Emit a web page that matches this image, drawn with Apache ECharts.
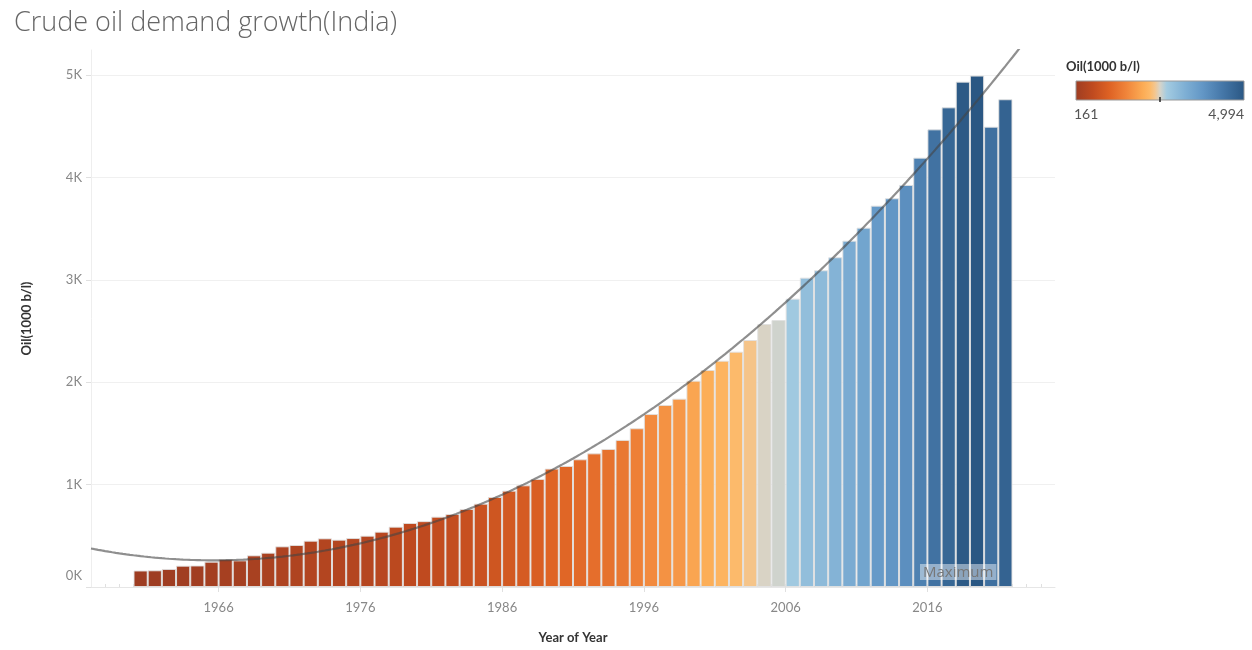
<!DOCTYPE html>
<html>
<head>
<meta charset="utf-8">
<script src="https://cdn.jsdelivr.net/npm/echarts@6/dist/echarts.min.js"></script>
<style>
html,body{margin:0;padding:0;background:#fff;}
#chart{width:1252px;height:650px;}
</style>
</head>
<body>
<div id="chart"></div>
<script>
// ---- data ----
const years = [1960,1961,1962,1963,1964,1965,1966,1967,1968,1969,
  1970,1971,1972,1973,1974,1975,1976,1977,1978,1979,
  1980,1981,1982,1983,1984,1985,1986,1987,1988,1989,
  1990,1991,1992,1993,1994,1995,1996,1997,1998,1999,
  2000,2001,2002,2003,2004,2005,2006,2007,2008,2009,
  2010,2011,2012,2013,2014,2015,2016,2017,2018,2019,
  2020,2021];
const oil = [161,163,176,208,210,247,273,260,309,335,
  397,410,452,475,462,478,501,540,589,625,
  643,687,713,762,814,879,941,993,1055,1156,
  1182,1247,1305,1348,1436,1550,1689,1777,1839,2015,
  2119,2210,2298,2412,2568,2607,2816,3021,3093,3220,
  3382,3509,3724,3796,3926,4193,4469,4684,4935,4994,
  4495,4763];
const yearTicks = [1966,1976,1986,1996,2006,2016];
const valueTicks = [0,1000,2000,3000,4000,5000];
const minorYearTicks = [1958,1959,1960,1961,1962,1963,1964,1965,1966,1967,1968,1969,1970,1971,1972,1973,1974,1975,1976,1977,1978,1979,1980,1981,1982,1983,1984,1985,1986,1987,1988,1989,1990,1991,1992,1993,1994,1995,1996,1997,1998,1999,2000,2001,2002,2003,2004,2005,2006,2007,2008,2009,2010,2011,2012,2013,2014,2015,2016,2017,2018,2019,2020,2021,2022,2023,2024];
const legendMin = 161, legendMax = 4994;

// ---- style: orange-blue diverging palette ----
const paletteStops = [
  [0,'#9e3d22'],[0.1,'#bf4a1f'],[0.2,'#de6224'],[0.3,'#f0843a'],
  [0.4,'#fcac55'],[0.44,'#fdb968'],[0.47,'#f4c68f'],[0.5,'#d7d4c9'],[0.54,'#a3cbe1'],
  [0.65,'#7eafd4'],[0.75,'#6397c6'],[0.87,'#4577a8'],[1,'#2a5783']
];
function hex2rgb(h){return [parseInt(h.substr(1,2),16),parseInt(h.substr(3,2),16),parseInt(h.substr(5,2),16)];}
function colorFor(v){
  let t=(v-legendMin)/(legendMax-legendMin); t=Math.max(0,Math.min(1,t));
  for(let i=1;i<paletteStops.length;i++){
    const a=paletteStops[i-1], b=paletteStops[i];
    if(t<=b[0]){
      const f=(t-a[0])/(b[0]-a[0]); const ca=hex2rgb(a[1]), cb=hex2rgb(b[1]);
      const c=ca.map((x,k)=>Math.round(x+(cb[k]-x)*f));
      return 'rgb('+c.join(',')+')';
    }
  }
  return paletteStops[paletteStops.length-1][1];
}

// ---- polynomial (degree 2) least-squares trend from the data ----
function quadFit(xs, ys){
  const x0 = 1990;
  let S=[0,0,0,0,0], T=[0,0,0];
  xs.forEach((x,i)=>{const u=x-x0; let p=1; for(let k=0;k<5;k++){S[k]+=p; if(k<3) T[k]+=p*ys[i]; p*=u;}});
  const A=[[S[0],S[1],S[2],T[0]],[S[1],S[2],S[3],T[1]],[S[2],S[3],S[4],T[2]]];
  for(let c=0;c<3;c++){
    for(let r=c+1;r<3;r++){const f=A[r][c]/A[c][c]; for(let k=c;k<4;k++) A[r][k]-=f*A[c][k];}
  }
  const co=[0,0,0];
  for(let r=2;r>=0;r--){let s=A[r][3]; for(let k=r+1;k<3;k++) s-=A[r][k]*co[k]; co[r]=s/A[r][r];}
  return x=>{const u=x-x0; return co[0]+co[1]*u+co[2]*u*u;};
}
const barX = years.map(y=>y+0.5);
const trend = quadFit(barX, oil);
const trendData = [];
for(let x=1957; x<=2025.001; x+=0.25) trendData.push([x, trend(x)]);

const chart = echarts.init(document.getElementById('chart'));
const FONT = 'Lato, "Open Sans", sans-serif';
chart.setOption({
  animation:false,
  textStyle:{fontFamily:FONT},
  title:{text:'Crude oil demand growth(India)', left:9, top:5,
    textStyle:{fontSize:27, fontWeight:300, color:'#666', fontFamily:'"Open Sans", sans-serif'}},
  grid:{left:91, right:197, top:50, bottom:63},
  xAxis:[{type:'value', min:1957, max:2025,
    name:'Year of Year', nameLocation:'middle', nameGap:44,
    nameTextStyle:{fontSize:13, fontWeight:'bold', color:'#333'},
    axisLine:{show:true, lineStyle:{color:'#e6e6e6'}},
    axisTick:{show:true, customValues:yearTicks, length:5, lineStyle:{color:'#e0e0e0'}},
    axisLabel:{customValues:yearTicks, formatter:v=>String(v), color:'#888', fontSize:13, margin:14},
    splitLine:{show:false}},
   {type:'value', min:1957, max:2025, position:'bottom', offset:0,
    axisLine:{show:false},
    axisTick:{show:true, inside:true, customValues:minorYearTicks, length:3, lineStyle:{color:'#e0e0e0'}},
    axisLabel:{show:false}, splitLine:{show:false}}],
  yAxis:{type:'value', min:0, max:5244,
    name:'Oil(1000 b/l)', nameLocation:'middle', nameGap:58, nameRotate:90,
    nameTextStyle:{fontSize:13, fontWeight:'bold', color:'#333'},
    axisLine:{show:true, lineStyle:{color:'#eeeeee'}},
    axisTick:{show:true, customValues:valueTicks, length:5, lineStyle:{color:'#e0e0e0'}},
    axisLabel:{customValues:valueTicks, color:'#888', fontSize:13, margin:9,
      formatter:v=> v===0 ? '{z|0K}' : (v/1000)+'K',
      rich:{z:{color:'#888', fontSize:13, padding:[0,0,22,0]}}},
    splitLine:{show:true, lineStyle:{color:'#f0f0f0'}}},
  series:[
    {type:'bar', name:'Oil', barWidth:'100%', xAxisIndex:0,
     data: years.map((y,i)=>({value:[barX[i], oil[i]], itemStyle:{color:colorFor(oil[i])}})),
     itemStyle:{borderColor:'rgba(225,225,225,0.9)', borderWidth:1}},
    {type:'line', name:'Trend', xAxisIndex:0, data:trendData, showSymbol:false, smooth:false, z:5,
     lineStyle:{color:'#444', width:2.2, opacity:0.6}, silent:true}
  ],
  graphic:[
    {type:'text', left:920, top:564, z:10,
     style:{text:'Maximum', fill:'#777', font:'15px "Open Sans", sans-serif', backgroundColor:'rgba(255,255,255,0.45)', padding:[1,3,0,3]}},
    {type:'text', left:1066, top:60, style:{text:'Oil(1000 b/l)', fill:'#333', font:'bold 13px '+FONT}},
    {type:'rect', shape:{x:1076, y:81, width:168, height:19},
     style:{fill:new echarts.graphic.LinearGradient(0,0,1,0, paletteStops.map(s=>({offset:s[0], color:s[1]}))), stroke:'#999', lineWidth:1}},
    {type:'line', shape:{x1:1160, y1:97, x2:1160, y2:102}, style:{stroke:'#222', lineWidth:1.5}},
    {type:'text', left:1074, top:107, style:{text:String(legendMin), fill:'#555', font:'14px '+FONT}},
    {type:'text', right:8, top:107, style:{text:legendMax.toLocaleString('en-US'), fill:'#555', font:'14px '+FONT}}
  ]
});
</script>
</body>
</html>
